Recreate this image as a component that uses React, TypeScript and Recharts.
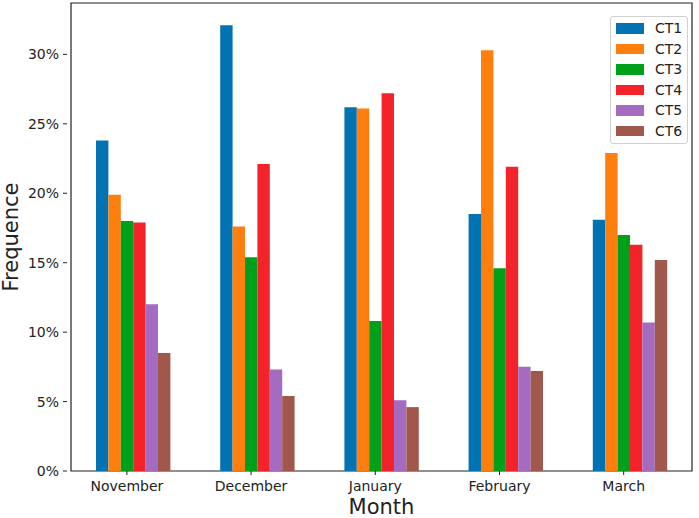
import { BarChart, Bar, XAxis, YAxis, ReferenceArea } from 'recharts';

const months = ['November', 'December', 'January', 'February', 'March'];
const seriesNames = ['CT1', 'CT2', 'CT3', 'CT4', 'CT5', 'CT6'];
const ct1 = [23.8, 32.1, 26.2, 18.5, 18.1];
const ct2 = [19.9, 17.6, 26.1, 30.3, 22.9];
const ct3 = [18.0, 15.4, 10.8, 14.6, 17.0];
const ct4 = [17.9, 22.1, 27.2, 21.9, 16.3];
const ct5 = [12.0, 7.3, 5.1, 7.5, 10.7];
const ct6 = [8.5, 5.4, 4.6, 7.2, 15.2];
const yTicks = [0, 5, 10, 15, 20, 25, 30];
const colors = ['#0173b2', '#ff7f0e', '#00a01a', '#f4232a', '#a56bc1', '#a0584c'];

const allSeries = [ct1, ct2, ct3, ct4, ct5, ct6];
const data = months.map((month, i) => {
  const row: Record<string, string | number> = { month };
  seriesNames.forEach((name, k) => {
    row[name] = allSeries[k][i];
  });
  return row;
});

const FONT = '"DejaVu Sans", sans-serif';
const BAR_W = 12.4;

// matplotlib puts the tick at the centre of the third bar, not the group centre
function MonthTick(props: any) {
  const { x, y, payload } = props;
  const tx = x - BAR_W / 2;
  return (
    <g>
      <line x1={tx} x2={tx} y1={y - 8} y2={y - 4} stroke="#222" strokeWidth={1} />
      <text x={tx} y={y + 12} textAnchor="middle" fill="#222" fontSize={14} fontFamily={FONT}>
        {payload.value}
      </text>
    </g>
  );
}

function LegendBox() {
  return (
    <div
      style={{
        position: 'absolute',
        left: 610,
        top: 16,
        border: '1px solid #d0d0d0',
        borderRadius: 3,
        background: 'rgba(255,255,255,0.8)',
        width: 78,
        height: 128,
        boxSizing: 'border-box',
        paddingTop: 1,
      }}
    >
      {seriesNames.map((name, k) => (
        <div key={name} style={{ display: 'flex', alignItems: 'center', height: 20.5 }}>
          <div style={{ width: 28, height: 10.5, background: colors[k], marginLeft: 5 }} />
          <span style={{ marginLeft: 11, fontSize: 14, fontFamily: FONT, color: '#222' }}>{name}</span>
        </div>
      ))}
    </div>
  );
}

export default function App() {
  return (
    <div style={{ position: 'absolute', left: 0, top: 0, width: 699, height: 518, background: '#fff' }}>
      <BarChart
        width={699}
        height={518}
        data={data}
        margin={{ top: 3, right: 3, left: 0, bottom: 0 }}
        barGap={0}
        barSize={BAR_W}
      >
        <XAxis
          dataKey="month"
          height={47}
          axisLine={false}
          tickLine={false}
          tick={<MonthTick />}
          padding={{ left: 4, right: 4 }}
          label={{
            value: 'Month',
            position: 'insideBottom',
            offset: 4,
            fill: '#222',
            fontSize: 21,
            fontFamily: FONT,
          }}
        />
        <YAxis
          width={67}
          domain={[0, 33.7]}
          ticks={yTicks}
          allowDataOverflow
          axisLine={false}
          tickLine={{ stroke: '#222' }}
          tickSize={4}
          tickMargin={4}
          tickFormatter={(v) => `${v}%`}
          tick={{ fill: '#222', fontSize: 14, fontFamily: FONT }}
          label={{
            value: 'Frequence',
            angle: -90,
            position: 'insideLeft',
            offset: 0,
            dx: 11,
            fill: '#222',
            fontSize: 21,
            fontFamily: FONT,
            style: { textAnchor: 'middle' },
          }}
        />
        {seriesNames.map((name, k) => (
          <Bar key={name} dataKey={name} fill={colors[k]} isAnimationActive={false} />
        ))}
        <ReferenceArea y1={0} y2={33.7} fill="none" stroke="#222" strokeWidth={1.2} ifOverflow="visible" />
      </BarChart>
      <LegendBox />
    </div>
  );
}
